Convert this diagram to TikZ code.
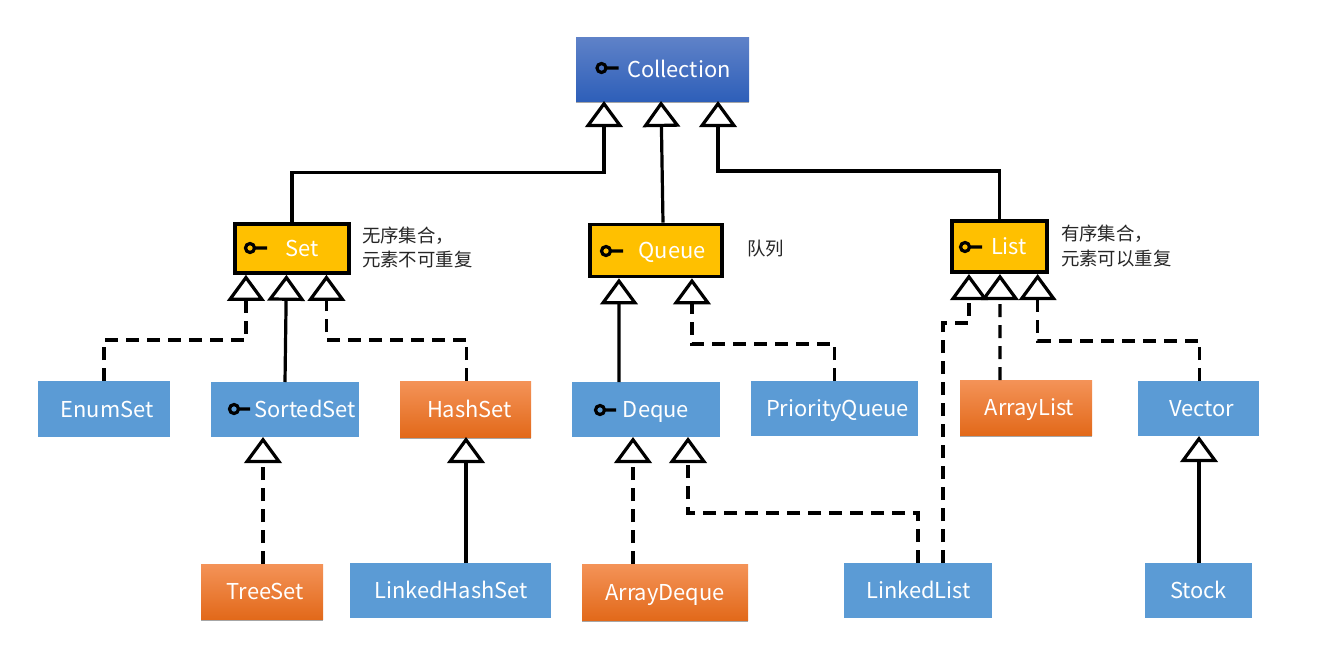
\documentclass[tikz,border=0pt]{standalone}
\usepackage{fontspec}
\setmainfont{Noto Sans CJK SC}
\usetikzlibrary{arrows.meta,shadows}
\newlength\px \setlength\px{0.75pt}
\definecolor{flatblue}{HTML}{5B9BD5}
\definecolor{gold}{HTML}{FFC000}
\definecolor{blue1}{HTML}{5F82C8}
\definecolor{blue2}{HTML}{2E5FB9}
\definecolor{orangetop}{HTML}{F49358}
\definecolor{orangemid}{HTML}{F67B28}
\definecolor{orangebot}{HTML}{E2691A}
\tikzset{
  x=0.75pt,y=-0.75pt,
  boxbase/.style={inner sep=0pt,outer sep=0pt,text=white,font=\fontsize{16.4}{20}\selectfont,text height=15pt,text depth=3pt,anchor=center},
  blueflat/.style={boxbase,fill=flatblue},
  softshadow/.style={drop shadow={shadow xshift=0.3pt,shadow yshift=-1.5pt,opacity=.35,fill=black}},
  orangebox/.style={boxbase,top color=orangetop,middle color=orangemid,bottom color=orangebot,softshadow},
  bluegrad/.style={boxbase,top color=blue1,bottom color=blue2,softshadow},
  goldbox/.style={boxbase,fill=gold,draw=black,line width=2.7pt,outer sep=1.35pt},
  note/.style={inner sep=0pt,outer sep=0pt,align=left,anchor=west,text=black!85,font=\fontsize{13.8}{18.2}\selectfont},
  keyicon/.style={line width=2.4pt,black},
  solidconn/.style={line width=2.4pt,draw=black,-{Triangle[open,fill=white,length=19.5pt,width=28pt]}},
  dashconn/.style={solidconn,dash pattern=on 9.75pt off 6pt},
}
\newcommand{\shifted}[2]{\hspace*{#1\px}#2}
\begin{document}
\begin{tikzpicture}
\useasboundingbox (0,0) rectangle (1320,664);
% boxes
\node[bluegrad,minimum width=173\px,minimum height=64\px] (Collection) at (662.5,69) {\shifted{33}{Collection}};
\node[goldbox,minimum width=114.5\px,minimum height=49\px] (Set) at (292,248.5) {\shifted{20}{Set}};
\node[goldbox,minimum width=132.5\px,minimum height=52\px] (Queue) at (656,250.5) {\shifted{32}{Queue}};
\node[goldbox,minimum width=95.5\px,minimum height=51.5\px] (List) at (999.5,246.5) {\shifted{19}{List}};
\node[blueflat,minimum width=132\px,minimum height=56\px] (EnumSet) at (104,409) {\shifted{6}{EnumSet}};
\node[blueflat,minimum width=148\px,minimum height=55\px] (SortedSet) at (285,409.5) {\shifted{40}{SortedSet}};
\node[orangebox,minimum width=131\px,minimum height=56\px] (HashSet) at (465.5,409) {\shifted{8}{HashSet}};
\node[blueflat,minimum width=148\px,minimum height=55\px] (Deque) at (646,409.5) {\shifted{20}{Deque}};
\node[blueflat,minimum width=167\px,minimum height=55\px] (PriorityQueue) at (834.5,408.5) {\shifted{6}{PriorityQueue}};
\node[orangebox,minimum width=132\px,minimum height=55\px] (ArrayList) at (1026,407.5) {\shifted{7}{ArrayList}};
\node[blueflat,minimum width=121\px,minimum height=55\px] (Vector) at (1198.5,408.5) {\shifted{6}{Vector}};
\node[orangebox,minimum width=122\px,minimum height=55\px] (TreeSet) at (262,591.5) {\shifted{7}{TreeSet}};
\node[blueflat,minimum width=201\px,minimum height=55\px] (LinkedHashSet) at (450.5,590.5) {\shifted{1}{LinkedHashSet}};
\node[orangebox,minimum width=166\px,minimum height=56\px] (ArrayDeque) at (665,592) {ArrayDeque};
\node[blueflat,minimum width=148\px,minimum height=55\px] (LinkedList) at (918,590.5) {\shifted{1}{LinkedList}};
\node[blueflat,minimum width=107\px,minimum height=55\px] (Stock) at (1198.5,590.5) {Stock};
% notes
\node[note] (noteSet) at (362,247.5) {无序集合，\\元素不可重复};
\node[note] (noteQueue) at (747,248.5) {队列};
\node[note] (noteList) at (1061,246) {有序集合，\\元素可以重复};
% key icons
\foreach \kx/\ky/\kend in {601.5/68/618.5,250/248/267,606/251/623,965/247/982,234/409/250,600/410/616}{
  \draw[keyicon] (\kx,\ky) circle (4.5) (\kx+4.5,\ky) -- (\kend,\ky);
}
% connectors
\draw[solidconn] (Set.north) -- ++(0,-50) -| ([xshift=28\px]Collection.south west);
\draw[solidconn] ([xshift=7\px]Queue.north) -- ([xshift=85\px]Collection.south west);
\draw[solidconn] (List.north) -- ++(0,-48) -| ([xshift=142\px]Collection.south west);
\draw[dashconn] (EnumSet.north) -- ++(0,-41) -| ([xshift=13\px]Set.south west);
\draw[solidconn] (SortedSet.north) -- ([xshift=53.5\px]Set.south west);
\draw[dashconn] ([xshift=1\px]HashSet.north) -- ++(0,-41) -| ([xshift=93.5\px]Set.south west);
\draw[dashconn] ([xshift=1\px]TreeSet.north) -- ([xshift=52\px]SortedSet.south west);
\draw[solidconn] ([xshift=116\px]LinkedHashSet.north west) -- ([xshift=66\px]HashSet.south west);
\draw[solidconn] ([xshift=47\px]Deque.north west) -- ([xshift=31\px]Queue.south west);
\draw[dashconn] (PriorityQueue.north) -- ++(0,-37) -| ([xshift=104\px]Queue.south west);
\draw[dashconn] ([xshift=-26\px]ArrayList.north) -- ([xshift=50\px]List.south west);
\draw[dashconn] ([xshift=1\px]Vector.north) -- ++(0,-40) -| ([xshift=87.7\px]List.south west);
\draw[dashconn] ([xshift=99\px]LinkedList.north west) -- ++(0,-240) -| ([xshift=19\px]List.south west);
\draw[dashconn] (LinkedList.north) -- ++(0,-50) -| ([xshift=116\px]Deque.south west);
\draw[dashconn] ([xshift=51\px]ArrayDeque.north west) -- ([xshift=61\px]Deque.south west);
\draw[solidconn] ([xshift=.5\px]Stock.north) -- ([xshift=61\px]Vector.south west);
\end{tikzpicture}
\end{document}
